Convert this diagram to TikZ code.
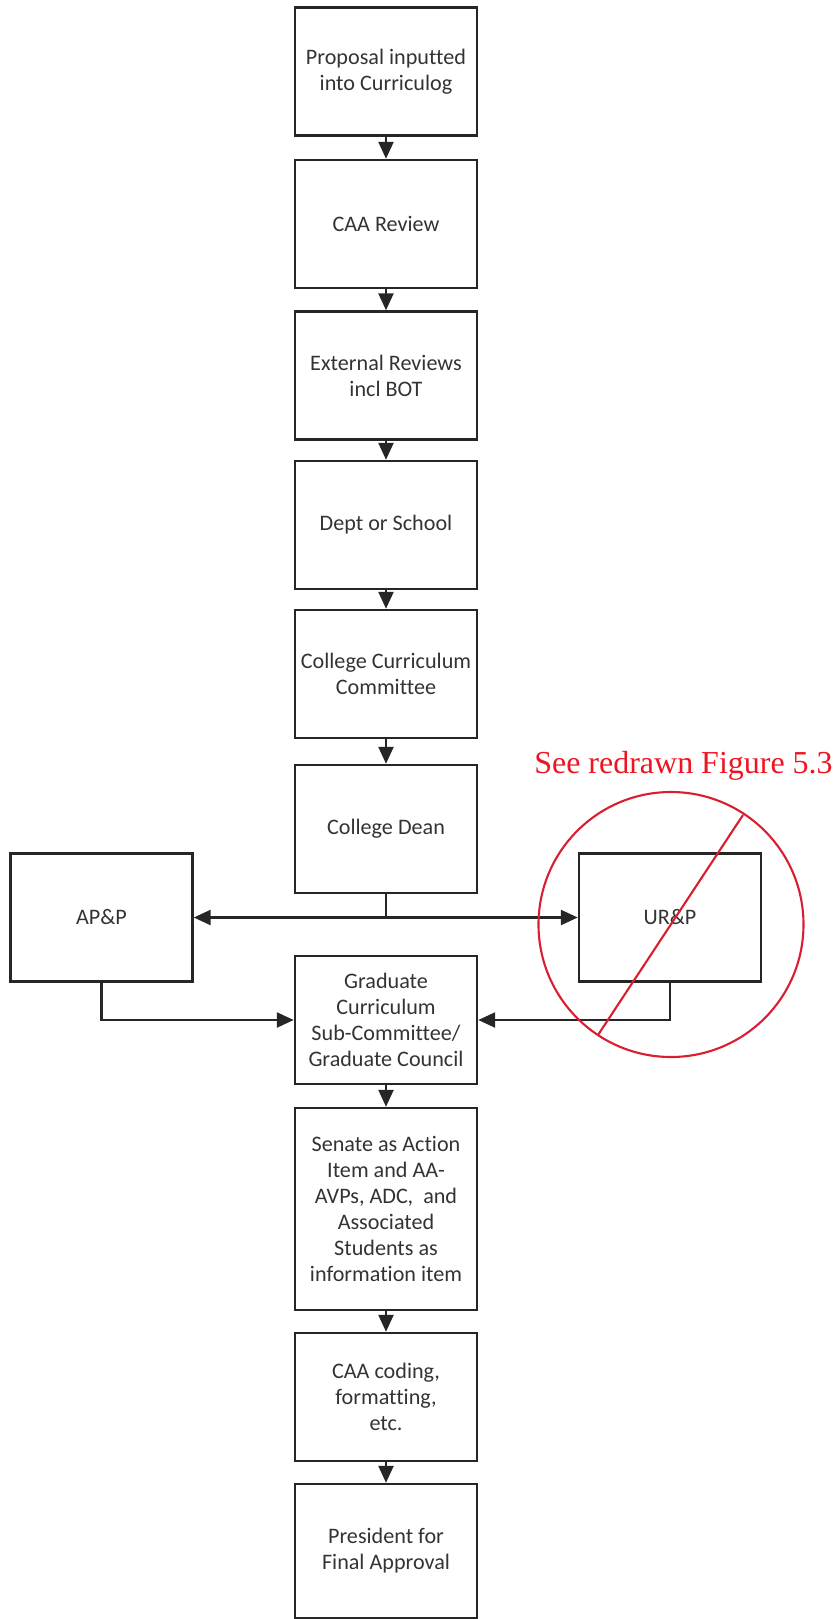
\documentclass[tikz,border=0pt]{standalone}
\usepackage{fontspec}
\setmainfont{Carlito}[Ligatures=NoCommon]
\newfontfamily\notefont{Liberation Serif}
\usetikzlibrary{arrows.meta}
\definecolor{notered}{RGB}{238,20,32}
\definecolor{ringred}{RGB}{218,30,50}

\begin{document}
\begin{tikzpicture}[
    box/.style={draw=black!85, line width=1.4pt, minimum width=3.64cm, minimum height=2.56cm,
      align=center, text=black!80, inner sep=2pt, font=\fontsize{12.6}{14.8}\selectfont},
    flow/.style={draw=black!85, line width=1.4pt, -{Triangle[length=0.34cm,width=0.30cm]}},
    strike/.style={draw=ringred, line width=1.2pt}]
  \useasboundingbox (0,0) rectangle (16.76,-32.38);

  % main column
  \node[box] (proposal) at (7.72,-1.43) {Proposal inputted\\into Curriculog};
  \node[box] (review) at (7.72,-4.48) {CAA Review};
  \node[box] (external) at (7.72,-7.51) {External Reviews\\incl BOT};
  \node[box] (dept) at (7.72,-10.50) {Dept or School};
  \node[box] (committee) at (7.72,-13.48) {College Curriculum\\Committee};
  \node[box] (dean) at (7.72,-16.58) {College Dean};
  \node[box] (app) at (2.03,-18.35) {AP\&P};
  \node[box] (urp) at (13.40,-18.35) {UR\&P};
  \node[box] (grad) at (7.72,-20.40) {Graduate\\Curriculum\\Sub-Committee/\\Graduate Council};
  \node[box, minimum height=4.04cm] (senate) at (7.72,-24.18)
    {Senate as Action\\Item and AA-\\AVPs, ADC,~ and\\Associated\\Students as\\information item};
  \node[box] (coding) at (7.72,-27.94) {CAA coding,\\formatting,\\etc.};
  \node[box, minimum height=2.68cm] (president) at (7.72,-31.02) {President for\\Final Approval};

  \draw[flow] (proposal) -- (review);
  \draw[flow] (review) -- (external);
  \draw[flow] (external) -- (dept);
  \draw[flow] (dept) -- (committee);
  \draw[flow] (committee) -- (dean);
  \draw[flow] (dean.south) -- (dean.south |- app.east) -- (app.east);
  \draw[flow] (dean.south |- urp.west) -- (urp.west);
  \draw[flow] (app.south) |- (grad.west);
  \draw[flow] (urp.south) |- (grad.east);
  \draw[flow] (grad) -- (senate);
  \draw[flow] (senate) -- (coding);
  \draw[flow] (coding) -- (president);

  % red note
  \node[text=notered, font=\notefont\fontsize{18.2}{20}\selectfont, anchor=base, inner sep=0pt]
    (note) at (13.67,-15.46) {See redrawn Figure 5.3};
  \draw[strike] (13.42,-18.49) circle [radius=2.65cm];
  \draw[strike] (14.86,-16.30) -- (11.96,-20.70);
\end{tikzpicture}
\end{document}
